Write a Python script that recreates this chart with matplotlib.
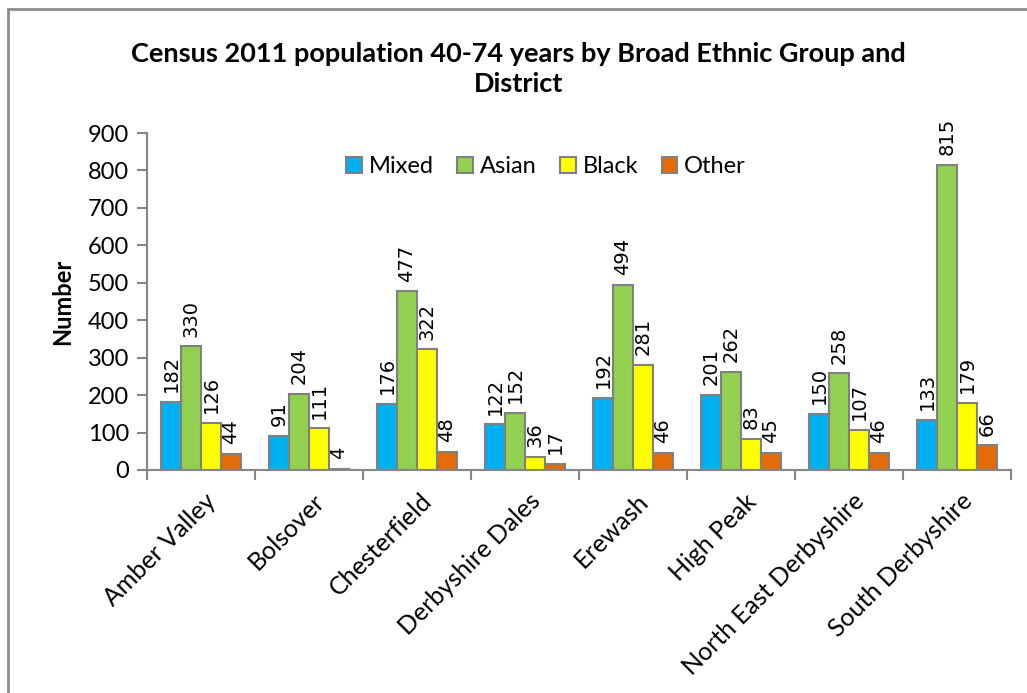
import numpy as np
import matplotlib.pyplot as plt
from matplotlib.patches import Rectangle

districts = ['Amber Valley', 'Bolsover', 'Chesterfield', 'Derbyshire Dales',
             'Erewash', 'High Peak', 'North East Derbyshire', 'South Derbyshire']
mixed = [182, 91, 176, 122, 192, 201, 150, 133]
asian = [330, 204, 477, 152, 494, 262, 258, 815]
black = [126, 111, 322, 36, 281, 83, 107, 179]
other = [44, 4, 48, 17, 46, 45, 46, 66]

series = [('Mixed', mixed, '#00B0F0'), ('Asian', asian, '#92D050'),
          ('Black', black, '#FFFF00'), ('Other', other, '#E36C09')]

plt.rcParams['font.family'] = ['Lato', 'DejaVu Sans']
grey = '#868686'

fig = plt.figure(figsize=(10.27, 6.93), dpi=100)
ax = fig.add_axes([147 / 1027, 1 - 470 / 693, (1011 - 147) / 1027, (470 - 133) / 693])

x = np.arange(len(districts))
w = 0.185
for i, (name, vals, col) in enumerate(series):
    pos = x + (i - 1.5) * w
    ax.bar(pos, vals, w, color=col, edgecolor='#808080', linewidth=1.5, label=name)
    for p, v in zip(pos, vals):
        ax.annotate(str(v), (p, v), xytext=(0, 7), textcoords='offset points',
                    rotation=90, ha='center', va='bottom', fontsize=14,
                    family='DejaVu Sans')

ax.set_xlim(-0.5, len(districts) - 0.5)
ax.set_ylim(0, 900)
ax.set_yticks(range(0, 901, 100))
ax.set_xticks(x + 0.03)
ax.set_xticklabels(districts, rotation=45, ha='right', rotation_mode='anchor', fontsize=18)
ax.set_xticks(np.arange(-0.5, len(districts)), minor=True)
ax.tick_params(axis='x', which='major', length=0, pad=14)
ax.tick_params(axis='x', which='minor', length=7, color=grey, width=1.5)
ax.tick_params(axis='y', length=7, color=grey, width=1.5, labelsize=17, pad=6)

for s in ['top', 'right']:
    ax.spines[s].set_visible(False)
for s in ['left', 'bottom']:
    ax.spines[s].set_color(grey)
    ax.spines[s].set_linewidth(1.5)

ax.set_ylabel('Number', fontsize=17, fontweight='bold', labelpad=10)

ax.legend(loc='upper center', bbox_to_anchor=(0.462, 0.995), ncol=4, frameon=False,
          fontsize=17, handlelength=0.65, handleheight=0.65, handletextpad=0.3,
          columnspacing=1.0)

fig.text(0.505, 1 - 69 / 693, 'Census 2011 population 40-74 years by Broad Ethnic Group and\nDistrict',
         ha='center', va='center', fontsize=19.5, fontweight='bold', linespacing=1.35)

fig.patches.append(Rectangle((8 / 1027, -0.1), 1.2, 1.1 - 9 / 693, transform=fig.transFigure,
                             fill=False, edgecolor='#8c8c8c', linewidth=2))

fig.savefig('out.png', dpi=100)
